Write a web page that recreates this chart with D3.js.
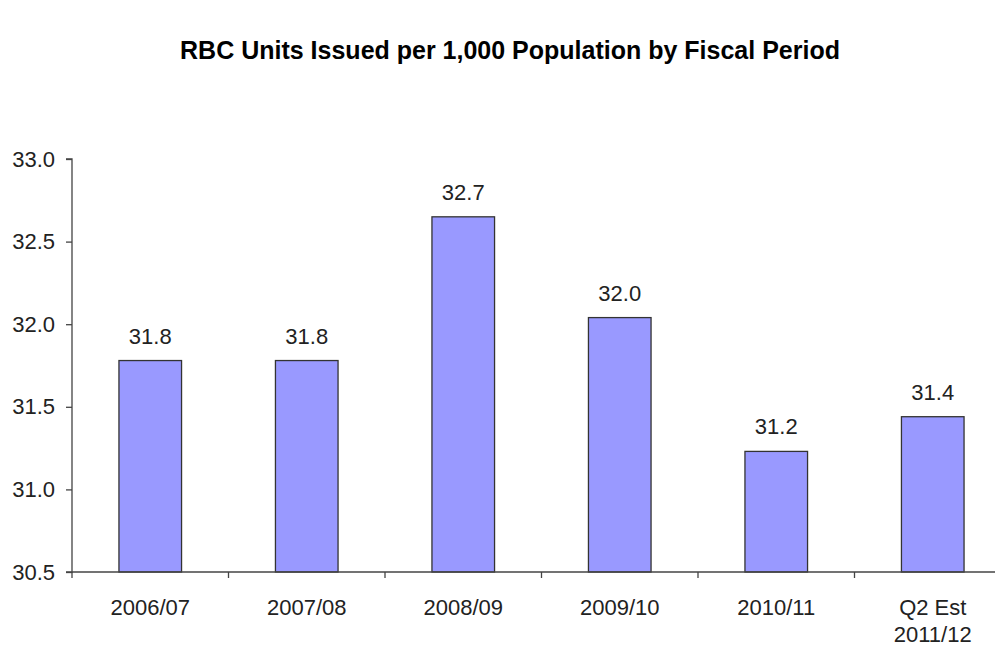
<!DOCTYPE html>
<html>
<head>
<meta charset="utf-8">
<script src="https://cdn.jsdelivr.net/npm/d3@7"></script>
<style>
html,body{margin:0;padding:0;background:#fff;}
svg{display:block;}
text{font-family:"Liberation Sans",Arial,sans-serif;}
</style>
</head>
<body>
<svg id="chart" width="995" height="648"></svg>
<script>
const categories = ["2006/07","2007/08","2008/09","2009/10","2010/11","Q2 Est\n2011/12"];
const values = [31.78, 31.78, 32.65, 32.04, 31.23, 31.44];
const valueLabels = ["31.8","31.8","32.7","32.0","31.2","31.4"];
const yTicks = [30.5, 31.0, 31.5, 32.0, 32.5, 33.0];
const title = "RBC Units Issued per 1,000 Population by Fiscal Period";

const svg = d3.select("#chart");
const mLeft = 72, mRight = 1011, mTop = 159, mBottom = 572;

const x = d3.scaleBand().domain(categories).range([mLeft, mRight]).paddingInner(0.6).paddingOuter(0.3);
const xTickScale = d3.scaleLinear().domain([0, categories.length]).range([mLeft, mRight]);
const y = d3.scaleLinear().domain([30.5, 33.0]).range([mBottom, mTop]);

svg.append("text")
  .attr("x", 510).attr("y", 59)
  .attr("text-anchor","middle")
  .attr("font-weight","bold")
  .attr("font-size", 25)
  .attr("fill","#000")
  .text(title);

// bars
svg.append("g").selectAll("rect").data(values).join("rect")
  .attr("x", (d,i)=>x(categories[i]))
  .attr("width", x.bandwidth())
  .attr("y", d=>y(d))
  .attr("height", d=>mBottom - y(d))
  .attr("fill","#9999ff")
  .attr("stroke","#333")
  .attr("stroke-width",1.3);

// value labels
svg.append("g").selectAll("text").data(values).join("text")
  .attr("x", (d,i)=>x(categories[i]) + x.bandwidth()/2)
  .attr("y", d=>y(d) - 17)
  .attr("text-anchor","middle")
  .attr("font-size", 22)
  .attr("fill","#222")
  .text((d,i)=>valueLabels[i]);

// y axis
const yAxis = d3.axisLeft(y).tickValues(yTicks).tickFormat(d3.format(".1f")).tickSize(6).tickPadding(11);
const gy = svg.append("g").attr("transform",`translate(${mLeft},0)`).call(yAxis);
gy.select(".domain").attr("stroke","#444").attr("stroke-width",1.3).attr("d",`M-6,${mTop}H0V${mBottom}H-6`);
gy.selectAll(".tick line").attr("stroke","#444").attr("stroke-width",1.3);
gy.selectAll(".tick text").attr("font-size",22).attr("fill","#222").attr("font-family","Liberation Sans, Arial, sans-serif");

// x axis
svg.append("line").attr("x1",mLeft).attr("x2",995).attr("y1",mBottom).attr("y2",mBottom)
  .attr("stroke","#444").attr("stroke-width",1.3);
svg.append("g").selectAll("line").data(d3.range(0, categories.length+1)).join("line")
  .attr("x1", d=>xTickScale(d)).attr("x2", d=>xTickScale(d))
  .attr("y1", mBottom).attr("y2", mBottom+6)
  .attr("stroke","#444").attr("stroke-width",1.3);

const xl = svg.append("g").selectAll("text").data(categories).join("text")
  .attr("x", d=>x(d)+x.bandwidth()/2)
  .attr("y", 615)
  .attr("text-anchor","middle")
  .attr("font-size",22)
  .attr("fill","#222");
xl.each(function(d){
  const t = d3.select(this);
  d.split("\n").forEach((s,i)=>{
    t.append("tspan").attr("x", t.attr("x")).attr("dy", i===0?0:27).text(s);
  });
});
</script>
</body>
</html>
